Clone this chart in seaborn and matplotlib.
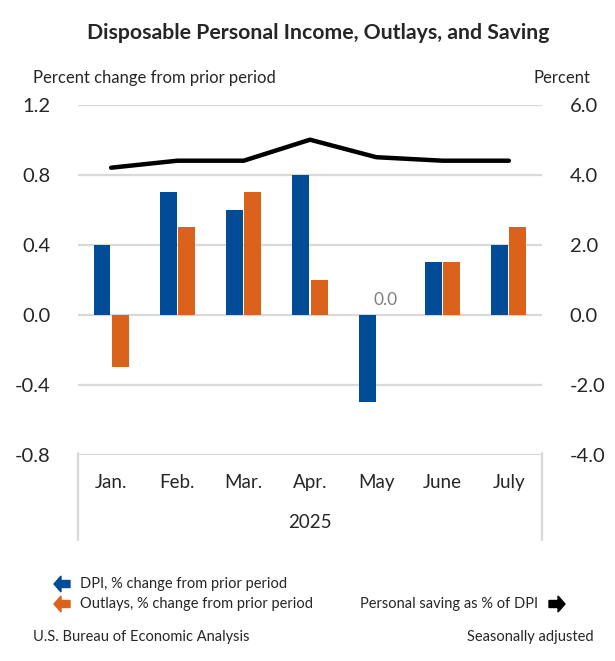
import matplotlib
matplotlib.use("Agg")
import matplotlib.pyplot as plt
import seaborn as sns
import pandas as pd
import numpy as np
from matplotlib.patches import FancyArrow
from matplotlib.lines import Line2D

months = ["Jan.", "Feb.", "Mar.", "Apr.", "May", "June", "July"]
dpi_change = [0.4, 0.7, 0.6, 0.8, -0.5, 0.3, 0.4]
outlays_change = [-0.3, 0.5, 0.7, 0.2, 0.0, 0.3, 0.5]
saving_rate = [4.2, 4.4, 4.4, 5.0, 4.5, 4.4, 4.4]
left_ticks = [-0.8, -0.4, 0.0, 0.4, 0.8, 1.2]
right_ticks = [-4.0, -2.0, 0.0, 2.0, 4.0, 6.0]
year_label = "2025"

BLUE = "#004C97"
ORANGE = "#DA621A"
GRID = "#D9D9D9"

sns.set_style("white")
plt.rcParams["font.family"] = ["Lato", "DejaVu Sans"]

df = pd.DataFrame({
    "month": months * 2,
    "value": dpi_change + outlays_change,
    "series": ["DPI"] * len(months) + ["Outlays"] * len(months),
})

fig = plt.figure(figsize=(6.15, 6.61), dpi=100)
ax = fig.add_axes([0.1268, 0.3121, 0.7545, 0.5295])

sns.barplot(data=df, x="month", y="value", hue="series", order=months,
            palette=[BLUE, ORANGE], width=0.55, gap=0.07, ax=ax,
            legend=False, saturation=1, errorbar=None, zorder=3,
            linewidth=0, edgecolor="none")

ax.set_ylim(-0.8, 1.2)
ax.set_yticks(left_ticks)
ax.set_yticklabels([f"{t:.1f}" for t in left_ticks], fontsize=14.5)
ax.set_xlim(-0.5, len(months) - 0.5)
ax.set_xlabel("")
ax.set_ylabel("")
ax.yaxis.grid(True, color=GRID, linewidth=1.6, zorder=0)
ax.set_axisbelow(True)
for s in ax.spines.values():
    s.set_visible(False)
ax.tick_params(axis="y", length=0, pad=20)
ax.tick_params(axis="x", length=0, pad=14, labelsize=13.5)

# zero label for May outlays
ax.text(4 + 0.1375, 0.04, "0.0", ha="center", va="bottom", fontsize=12.5, color="#7F7F7F")

ax2 = ax.twinx()
sns.lineplot(x=np.arange(len(months)), y=saving_rate, color="black", linewidth=3.2,
             ax=ax2, zorder=4)
ax2.set_ylim(-4.0, 6.0)
ax2.set_yticks(right_ticks)
ax2.set_yticklabels([f"{t:.1f}" for t in right_ticks], fontsize=14.5)
ax2.tick_params(axis="y", length=0, pad=20)
for s in ax2.spines.values():
    s.set_visible(False)
ax2.set_xlim(-0.5, len(months) - 0.5)

# category box below the plot
W, H = 615.0, 661.0
def fx(px): return px / W
def fy(py): return 1 - py / H
for xpx in (78, 542):
    fig.add_artist(Line2D([fx(xpx), fx(xpx)], [fy(453), fy(540)], color=GRID, linewidth=1.6))
fig.text(fx(310), fy(523), year_label, ha="center", va="center", fontsize=13.5)

# titles
fig.text(fx(318), fy(33), "Disposable Personal Income, Outlays, and Saving",
         ha="center", va="center", fontsize=15.3, fontweight="bold")
fig.text(fx(33), fy(78), "Percent change from prior period", ha="left", va="center", fontsize=12)
fig.text(fx(590), fy(78), "Percent", ha="right", va="center", fontsize=12)

# legend
def arrow(xpx, ypx, direction, color):
    length = 16
    if direction == "left":
        x0 = xpx + length / 2; dx = -length
    else:
        x0 = xpx - length / 2; dx = length
    fig.add_artist(FancyArrow(fx(x0), fy(ypx), fx(dx), 0, width=7 / H,
                              head_width=16 / H, head_length=7 / W,
                              length_includes_head=True, color=color,
                              transform=fig.transFigure))

arrow(62, 584, "left", BLUE)
arrow(62, 604, "left", ORANGE)
fig.text(fx(80), fy(584), "DPI, % change from prior period", ha="left", va="center", fontsize=10.5)
fig.text(fx(80), fy(604), "Outlays, % change from prior period", ha="left", va="center", fontsize=10.5)
fig.text(fx(360), fy(604), "Personal saving as % of DPI", ha="left", va="center", fontsize=10.5)
arrow(557, 604, "right", "black")

fig.text(fx(33), fy(637), "U.S. Bureau of Economic Analysis", ha="left", va="center", fontsize=10.5)
fig.text(fx(594), fy(637), "Seasonally adjusted", ha="right", va="center", fontsize=10.5)

fig.savefig("out.png", dpi=100, facecolor="white")
